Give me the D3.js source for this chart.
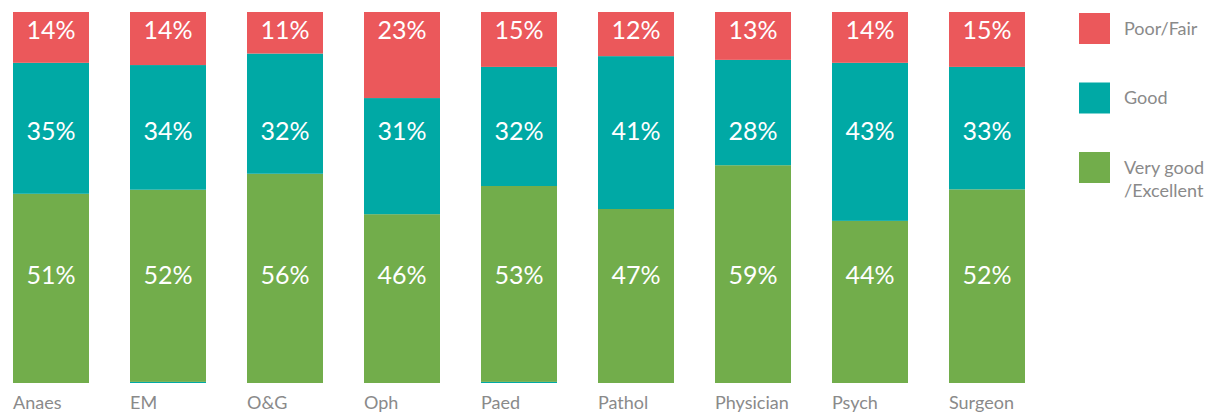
<!DOCTYPE html>
<html>
<head>
<meta charset="utf-8">
<script src="https://cdn.jsdelivr.net/npm/d3@7"></script>
<style>
    body { margin: 0; background: #fff; }
    text { font-family: Lato, "Open Sans", sans-serif; }
</style>
</head>
<body>
<svg id="chart" width="1211" height="413"></svg>
<script>
// Specialties along the x axis
var categories = ["Anaes", "EM", "O&G", "Oph", "Paed", "Pathol", "Physician", "Psych", "Surgeon"];

// Share of each rating, in percent
var poorFair      = [13.7, 14.3, 11.2, 23.2, 14.8, 11.9, 12.9, 13.7, 14.8];
var good          = [35.3, 33.6, 32.4, 31.3, 32.1, 41.2, 28.4, 42.6, 33.0];
var veryGood      = [51.0, 51.8, 56.4, 45.5, 52.8, 46.9, 58.7, 43.7, 52.2];
// A sliver drawn under the green for two specialties
var other         = [0, 0.3, 0, 0, 0.3, 0, 0, 0, 0];

var seriesNames = ["Poor/Fair", "Good", "Very good\n/Excellent"];

// Labels sit on fixed rows, not in the middle of each segment
var labelRows = { poor: 95.1, good: 67.9, veryGood: 29.1 };

var colors = { poor: "#eb585b", good: "#00a9a5", veryGood: "#72ad4b" };

var svg = d3.select("#chart");

var x = d3.scaleBand()
    .domain(categories)
    .range([13, 1025])
    .paddingInner(41 / 117)
    .paddingOuter(0);

var y = d3.scaleLinear()
    .domain([0, 100])
    .range([383, 12]);

// Build the rows for stacking, bottom first
var rows = categories.map(function (c, i) {
    return { cat: c, other: other[i], veryGood: veryGood[i], good: good[i], poor: poorFair[i] };
});

var keys = ["other", "veryGood", "good", "poor"];
var stack = d3.stack().keys(keys)(rows);
var fillFor = { other: colors.good, veryGood: colors.veryGood, good: colors.good, poor: colors.poor };

svg.append("g").selectAll("g")
    .data(stack)
    .enter().append("g")
    .attr("fill", function (d) { return fillFor[d.key]; })
    .selectAll("rect")
    .data(function (d) { return d; })
    .enter().append("rect")
    .attr("x", function (d) { return x(d.data.cat); })
    .attr("y", function (d) { return y(d[1]); })
    .attr("width", x.bandwidth())
    .attr("height", function (d) { return y(d[0]) - y(d[1]); });

// Percent labels
var fmt = function (v) { return d3.format(".0f")(v) + "%"; };
["poor", "good", "veryGood"].forEach(function (k) {
    svg.append("g").selectAll("text")
        .data(rows)
        .enter().append("text")
        .attr("x", function (d) { return x(d.cat) + x.bandwidth() / 2; })
        .attr("y", y(labelRows[k]))
        .attr("dy", "0.36em")
        .attr("text-anchor", "middle")
        .attr("fill", "#fff")
        .style("font-size", "25px")
        .text(function (d) { return fmt(d[k]); });
});

// Category labels, left aligned under each bar
svg.append("g").selectAll("text")
    .data(categories)
    .enter().append("text")
    .attr("x", function (d) { return x(d); })
    .attr("y", 409)
    .attr("fill", "#8a8a8a")
    .style("font-size", "18px")
    .text(function (d) { return d; });

// Legend
var legendKeys = ["poor", "good", "veryGood"];
var legend = svg.append("g").attr("transform", "translate(1079,13)");
legendKeys.forEach(function (k, i) {
    var g = legend.append("g").attr("transform", "translate(0," + (i * 69.5) + ")");
    g.append("rect")
        .attr("width", 31)
        .attr("height", 31)
        .attr("fill", colors[k]);
    var t = g.append("text")
        .attr("x", 45)
        .attr("y", 15.5)
        .attr("fill", "#8a8a8a")
        .style("font-size", "18px");
    seriesNames[i].split("\n").forEach(function (line, j) {
        t.append("tspan")
            .attr("x", 45)
            .attr("dy", j == 0 ? "0.35em" : "1.3em")
            .text(line);
    });
});
</script>
</body>
</html>
